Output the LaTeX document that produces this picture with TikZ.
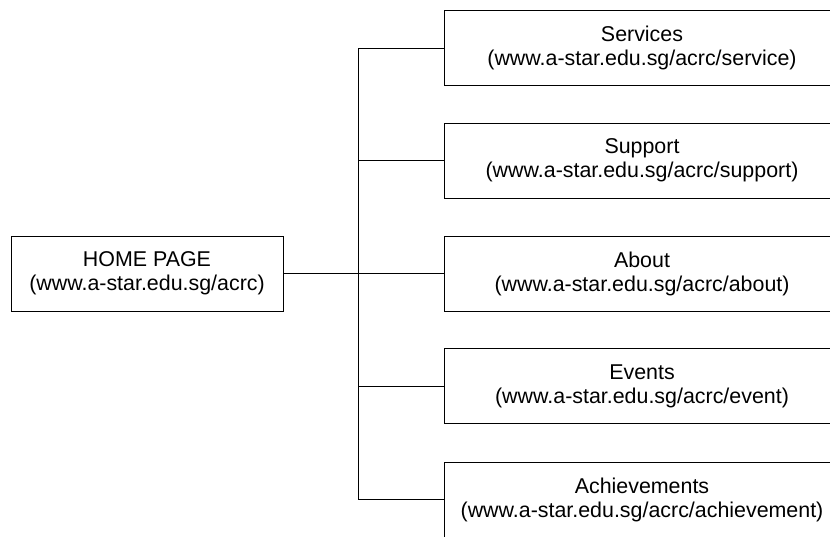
\documentclass[tikz,border=0pt]{standalone}
\usepackage{fontspec}
\setmainfont{Liberation Sans}
\usepackage{tikz}
\usetikzlibrary{positioning}

\tikzset{
  pagebox/.style={draw,line width=1pt,align=center,minimum height=75pt,
    inner sep=0pt,font=\fontsize{21.4}{24}\selectfont},
  homebox/.style={pagebox,minimum width=272pt},
  subbox/.style={pagebox,minimum width=396pt},
  link/.style={line width=1pt}
}

\begin{document}
\begin{tikzpicture}[x=1pt,y=-1pt]
\useasboundingbox (0,0) rectangle (830,536);
\node[homebox](home) at (147,273.5){HOME PAGE\\(www.a-star.edu.sg/acrc)};
\node[subbox](serv) at (642,48){Services\\(www.a-star.edu.sg/acrc/service)};
\node[subbox](supp) at (642,160.7){Support\\(www.a-star.edu.sg/acrc/support)};
\node[subbox](abou) at (642,273.5){About\\(www.a-star.edu.sg/acrc/about)};
\node[subbox](evnt) at (642,386.2){Events\\(www.a-star.edu.sg/acrc/event)};
\node[subbox](achv) at (642,499.5){Achievements\\(www.a-star.edu.sg/acrc/achievement)};
\coordinate (trunk) at (358,273.5);
\draw[link](home.east)--(trunk);
\draw[link](trunk|-serv.west)--(trunk|-achv.west);
\draw[link](trunk|-serv.west)--(serv.west)
(trunk|-supp.west)--(supp.west)
(trunk|-abou.west)--(abou.west)
(trunk|-evnt.west)--(evnt.west)
(trunk|-achv.west)--(achv.west);
\end{tikzpicture}
\end{document}
